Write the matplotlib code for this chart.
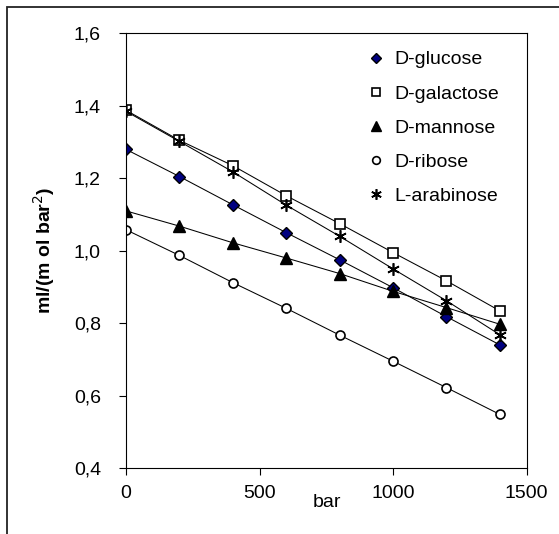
import matplotlib
matplotlib.use("Agg")
import matplotlib.pyplot as plt
from matplotlib.patches import Rectangle
from matplotlib.ticker import FuncFormatter

plt.rcParams['font.family'] = ['Liberation Sans', 'DejaVu Sans']

# pressure (bar)
pressure = [0, 200, 400, 600, 800, 1000, 1200, 1400]

# values, ml/(mol bar^2)
glucose = [1.28, 1.205, 1.127, 1.05, 0.975, 0.898, 0.818, 0.74]
galactose = [1.388, 1.305, 1.235, 1.152, 1.075, 0.995, 0.917, 0.834]
mannose = [1.11, 1.068, 1.022, 0.98, 0.937, 0.888, 0.843, 0.797]
ribose = [1.058, 0.987, 0.912, 0.841, 0.767, 0.695, 0.622, 0.548]
arabinose = [1.385, 1.302, 1.218, 1.126, 1.04, 0.95, 0.862, 0.768]

fig = plt.figure(figsize=(5.59, 5.34), dpi=100)
ax = fig.add_axes([0.2254, 0.1236, 0.9419 - 0.2254, 0.9373 - 0.1236])

# outer chart frame (only left/top visible in the crop)
fig.patches.append(Rectangle((7 / 559, -0.1), 1.2, 1.1 - 7 / 534,
                             transform=fig.transFigure, fill=False,
                             edgecolor='#222222', linewidth=1.3))

lw = 0.75
ax.plot(pressure, glucose, '-', color='black', lw=lw, marker='D', ms=6.5,
        mfc='#000080', mec='black', mew=1.0, label='D-glucose')
ax.plot(pressure, galactose, '-', color='black', lw=lw, marker='s', ms=7.5,
        mfc='white', mec='black', mew=1.2, label='D-galactose')
ax.plot(pressure, mannose, '-', color='black', lw=lw, marker='^', ms=8.5,
        mfc='black', mec='black', label='D-mannose')
ax.plot(pressure, ribose, '-', color='black', lw=lw, marker='o', ms=6.5,
        mfc='white', mec='black', mew=1.2, label='D-ribose')
ax.plot(pressure, arabinose, '-', color='black', lw=lw, marker=(6, 2, 0), ms=9,
        mec='black', mew=1.2, label='L-arabinose')

ax.set_xlim(0, 1500)
ax.set_ylim(0.4, 1.6)
ax.set_xticks([0, 500, 1000, 1500])
ax.set_yticks([0.4, 0.6, 0.8, 1.0, 1.2, 1.4, 1.6])
ax.yaxis.set_major_formatter(FuncFormatter(lambda v, p: f"{v:.1f}".replace('.', ',')))
ax.tick_params(direction='out', length=5, width=0.8, labelsize=14)
ax.tick_params(axis='y', pad=13)
ax.tick_params(axis='x', pad=7)
for s in ax.spines.values():
    s.set_linewidth(0.8)

ax.set_ylabel('ml/(m ol bar$^2$)', fontsize=14, fontweight='bold')
ax.yaxis.set_label_coords(-0.172, 0.5)

bar_x = (327 - 126) / 400.5 * 1500
ax.text(bar_x, -0.06, 'bar', transform=ax.get_xaxis_transform(),
        fontsize=14, ha='center', va='top')

leg = ax.legend(loc='upper left', bbox_to_anchor=(0.609, 0.96), frameon=False,
                fontsize=14, handlelength=0.6, handletextpad=0.64,
                labelspacing=0.85, borderaxespad=0, borderpad=0,
                markerscale=0.85)
for h in leg.get_lines():
    h.set_linestyle('None')

fig.savefig('out.png', dpi=100)
